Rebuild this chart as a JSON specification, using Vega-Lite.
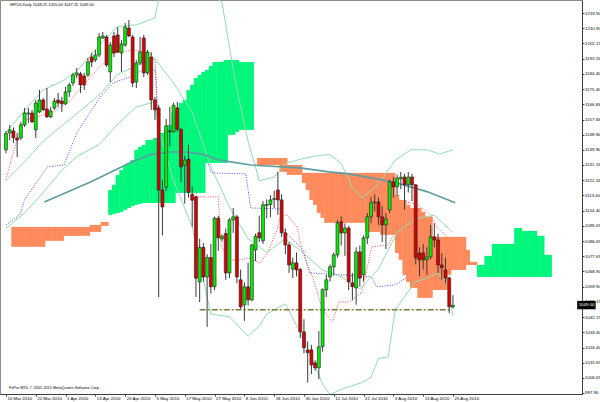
{
  "$schema": "https://vega.github.io/schema/vega-lite/v6.json",
  "width": 582,
  "height": 394,
  "autosize": {"type": "none"},
  "padding": {"left": 0, "top": 0, "right": 18, "bottom": 8},
  "background": "white",
  "config": {
    "view": {"stroke": "#8c8c8c", "strokeWidth": 1},
    "axis": {"labelFont": "Liberation Sans", "labelFontSize": 4.4, "labelColor": "#000000", "domainColor": "#404040", "tickColor": "#404040", "grid": false}
  },
  "datasets": {
    "candles": [
      {"i":0,"o":1140,"h":1151,"l":1138,"c":1149.5},
      {"i":1,"o":1149.8,"h":1154.5,"l":1145.7,"c":1151.6},
      {"i":2,"o":1151,"h":1153,"l":1144,"c":1147},
      {"i":3,"o":1146.9,"h":1149.8,"l":1135.8,"c":1145.7},
      {"i":4,"o":1146.9,"h":1156.3,"l":1145.7,"c":1154.5},
      {"i":5,"o":1154.5,"h":1164.4,"l":1153.3,"c":1161.5},
      {"i":6,"o":1160.9,"h":1164.4,"l":1155.7,"c":1161.5},
      {"i":7,"o":1161.5,"h":1163.3,"l":1155.7,"c":1156.3},
      {"i":8,"o":1151.6,"h":1169.1,"l":1146.9,"c":1167.3},
      {"i":9,"o":1162.1,"h":1174.9,"l":1161.5,"c":1169.1},
      {"i":10,"o":1169.1,"h":1170.3,"l":1162.7,"c":1163.3},
      {"i":11,"o":1163.8,"h":1176.1,"l":1158.6,"c":1159.2},
      {"i":12,"o":1159.2,"h":1165.0,"l":1158.6,"c":1162.7},
      {"i":13,"o":1164.4,"h":1170.3,"l":1163.3,"c":1168.5},
      {"i":14,"o":1169.1,"h":1173.2,"l":1165.0,"c":1167.3},
      {"i":15,"o":1168.5,"h":1170.9,"l":1162.1,"c":1166.8},
      {"i":16,"o":1166.8,"h":1176.7,"l":1166.2,"c":1173.8},
      {"i":17,"o":1173.8,"h":1179.0,"l":1170.9,"c":1177.9},
      {"i":18,"o":1179.0,"h":1184.9,"l":1177.3,"c":1183.7},
      {"i":19,"o":1183.7,"h":1187.8,"l":1181.9,"c":1184.9},
      {"i":20,"o":1184.3,"h":1185.5,"l":1173.2,"c":1177.9},
      {"i":21,"o":1183.1,"h":1184.9,"l":1175.0,"c":1177.9},
      {"i":22,"o":1183.7,"h":1193.6,"l":1182.5,"c":1191.3},
      {"i":23,"o":1194.2,"h":1196.5,"l":1188.4,"c":1191.3},
      {"i":24,"o":1192.5,"h":1198.3,"l":1191.3,"c":1195.4},
      {"i":25,"o":1195.4,"h":1208.2,"l":1194.2,"c":1205.9},
      {"i":26,"o":1205.3,"h":1208.8,"l":1204.7,"c":1206.5},
      {"i":27,"o":1205.9,"h":1207.1,"l":1188.4,"c":1189.5},
      {"i":28,"o":1185.5,"h":1203.0,"l":1179.6,"c":1201.2},
      {"i":29,"o":1206.5,"h":1208.8,"l":1194.2,"c":1196.5},
      {"i":30,"o":1207.1,"h":1211.7,"l":1196.5,"c":1197.1},
      {"i":31,"o":1196.5,"h":1204.1,"l":1185.5,"c":1201.8},
      {"i":32,"o":1201.2,"h":1214.1,"l":1200.1,"c":1211.7},
      {"i":33,"o":1211.1,"h":1215.8,"l":1205.9,"c":1206.5},
      {"i":34,"o":1205.9,"h":1207.1,"l":1176.7,"c":1179.0},
      {"i":35,"o":1179.6,"h":1192.5,"l":1176.1,"c":1190.7},
      {"i":36,"o":1190.7,"h":1205.9,"l":1189.5,"c":1197.1},
      {"i":37,"o":1205.3,"h":1207.1,"l":1182.5,"c":1184.9},
      {"i":38,"o":1184.9,"h":1198.3,"l":1183.7,"c":1197.1},
      {"i":39,"o":1194.2,"h":1197.1,"l":1163.3,"c":1169.1},
      {"i":40,"o":1169.1,"h":1170.9,"l":1157.4,"c":1163.3},
      {"i":41,"o":1164.4,"h":1166.2,"l":1054.0,"c":1116.5},
      {"i":42,"o":1116.5,"h":1122.4,"l":1090.0,"c":1106.6},
      {"i":43,"o":1118.0,"h":1158.0,"l":1116.0,"c":1154.0},
      {"i":44,"o":1151.0,"h":1165.0,"l":1142.0,"c":1150.5},
      {"i":45,"o":1150.5,"h":1167.5,"l":1150.0,"c":1166.0},
      {"i":46,"o":1164.5,"h":1168.0,"l":1150.5,"c":1152.0},
      {"i":47,"o":1152.0,"h":1152.5,"l":1121.0,"c":1130.0},
      {"i":48,"o":1131.0,"h":1136.5,"l":1108.5,"c":1134.0},
      {"i":49,"o":1134.5,"h":1143.0,"l":1112.0,"c":1115.0},
      {"i":50,"o":1114.0,"h":1118.5,"l":1095.0,"c":1110.5},
      {"i":51,"o":1112.5,"h":1113.0,"l":1054.0,"c":1065.0},
      {"i":52,"o":1062.8,"h":1088.0,"l":1051.0,"c":1083.0},
      {"i":53,"o":1083.0,"h":1085.5,"l":1063.0,"c":1065.7},
      {"i":54,"o":1065.7,"h":1079.0,"l":1036.5,"c":1077.0},
      {"i":55,"o":1077.0,"h":1085.0,"l":1056.0,"c":1060.0},
      {"i":56,"o":1060.0,"h":1101.0,"l":1058.0,"c":1100.0},
      {"i":57,"o":1100.0,"h":1101.5,"l":1081.0,"c":1088.5},
      {"i":58,"o":1088.0,"h":1090.5,"l":1086.5,"c":1089.5},
      {"i":59,"o":1091.0,"h":1094.0,"l":1064.0,"c":1068.0},
      {"i":60,"o":1068.0,"h":1100.0,"l":1065.0,"c":1099.0},
      {"i":61,"o":1099.0,"h":1106.0,"l":1091.5,"c":1100.8},
      {"i":62,"o":1100.8,"h":1102.0,"l":1062.0,"c":1065.7},
      {"i":63,"o":1064.0,"h":1070.0,"l":1047.0,"c":1048.2},
      {"i":64,"o":1049.4,"h":1062.5,"l":1040.0,"c":1059.9},
      {"i":65,"o":1059.9,"h":1074.0,"l":1049.0,"c":1052.3},
      {"i":66,"o":1052.3,"h":1085.0,"l":1051.5,"c":1084.4},
      {"i":67,"o":1081.5,"h":1091.0,"l":1075.0,"c":1089.5},
      {"i":68,"o":1091.5,"h":1101.5,"l":1086.0,"c":1088.5},
      {"i":69,"o":1086.8,"h":1110.0,"l":1085.0,"c":1107.8},
      {"i":70,"o":1107.5,"h":1111.0,"l":1100.0,"c":1108.0},
      {"i":71,"o":1108.0,"h":1113.5,"l":1100.5,"c":1110.7},
      {"i":72,"o":1111.0,"h":1116.0,"l":1106.0,"c":1111.5},
      {"i":73,"o":1116.5,"h":1127.0,"l":1102.0,"c":1110.7},
      {"i":74,"o":1110.7,"h":1114.0,"l":1089.0,"c":1091.5},
      {"i":75,"o":1091.5,"h":1094.0,"l":1079.0,"c":1084.4},
      {"i":76,"o":1084.4,"h":1086.0,"l":1068.0,"c":1072.7},
      {"i":77,"o":1070.3,"h":1077.0,"l":1065.0,"c":1074.0},
      {"i":78,"o":1073.9,"h":1080.0,"l":1066.0,"c":1069.8},
      {"i":79,"o":1070.0,"h":1071.0,"l":1030.0,"c":1033.6},
      {"i":80,"o":1033.6,"h":1041.0,"l":1021.0,"c":1024.3},
      {"i":81,"o":1023.0,"h":1028.0,"l":1004.0,"c":1021.5},
      {"i":82,"o":1023.1,"h":1026.0,"l":1009.0,"c":1014.3},
      {"i":83,"o":1015.5,"h":1017.0,"l":1011.0,"c":1012.6},
      {"i":84,"o":1012.6,"h":1034.0,"l":1006.0,"c":1024.9},
      {"i":85,"o":1024.9,"h":1059.0,"l":1022.0,"c":1058.2},
      {"i":86,"o":1058.2,"h":1067.0,"l":1054.0,"c":1064.0},
      {"i":87,"o":1065.7,"h":1073.0,"l":1063.0,"c":1071.6},
      {"i":88,"o":1071.6,"h":1080.0,"l":1066.5,"c":1078.6},
      {"i":89,"o":1078.6,"h":1099.0,"l":1077.0,"c":1097.3},
      {"i":90,"o":1097.9,"h":1101.0,"l":1084.0,"c":1091.4},
      {"i":91,"o":1091.4,"h":1097.0,"l":1078.0,"c":1094.3},
      {"i":92,"o":1094.3,"h":1095.5,"l":1058.0,"c":1062.8},
      {"i":93,"o":1062.2,"h":1068.0,"l":1052.0,"c":1060.0},
      {"i":94,"o":1059.3,"h":1083.0,"l":1049.5,"c":1080.3},
      {"i":95,"o":1080.3,"h":1084.0,"l":1060.0,"c":1065.0},
      {"i":96,"o":1067.0,"h":1090.0,"l":1063.0,"c":1088.5},
      {"i":97,"o":1088.5,"h":1103.0,"l":1085.0,"c":1100.8},
      {"i":98,"o":1100.8,"h":1112.5,"l":1097.0,"c":1109.0},
      {"i":99,"o":1109.0,"h":1114.0,"l":1104.0,"c":1109.5},
      {"i":100,"o":1109.5,"h":1112.0,"l":1096.0,"c":1100.8},
      {"i":101,"o":1100.8,"h":1107.0,"l":1086.0,"c":1096.1},
      {"i":102,"o":1096.1,"h":1103.0,"l":1082.0,"c":1099.6},
      {"i":103,"o":1104.9,"h":1122.5,"l":1103.0,"c":1121.2},
      {"i":104,"o":1121.2,"h":1124.0,"l":1112.0,"c":1118.3},
      {"i":105,"o":1118.3,"h":1125.5,"l":1113.0,"c":1123.5},
      {"i":106,"o":1123.0,"h":1127.0,"l":1117.0,"c":1124.0},
      {"i":107,"o":1124.1,"h":1126.0,"l":1105.0,"c":1119.5},
      {"i":108,"o":1119.5,"h":1127.0,"l":1115.0,"c":1124.1},
      {"i":109,"o":1124.1,"h":1126.0,"l":1110.0,"c":1119.5},
      {"i":110,"o":1119.5,"h":1120.0,"l":1073.0,"c":1076.8},
      {"i":111,"o":1079.7,"h":1083.0,"l":1066.0,"c":1075.7},
      {"i":112,"o":1079.7,"h":1085.0,"l":1070.0,"c":1075.7},
      {"i":113,"o":1075.7,"h":1083.0,"l":1067.0,"c":1077.4},
      {"i":114,"o":1077.4,"h":1096.0,"l":1076.0,"c":1089.1},
      {"i":115,"o":1089.1,"h":1097.0,"l":1083.0,"c":1087.3},
      {"i":116,"o":1087.3,"h":1091.0,"l":1068.0,"c":1072.7},
      {"i":117,"o":1072.7,"h":1079.5,"l":1064.0,"c":1071.0},
      {"i":118,"o":1069.8,"h":1077.0,"l":1062.0,"c":1065.1},
      {"i":119,"o":1065.1,"h":1066.0,"l":1044.5,"c":1048.2},
      {"i":120,"o":1048.25,"h":1055.0,"l":1047.25,"c":1049.0}
    ],
    "cloud": [
      {"i":2,"a":1083.3,"b":1094.9},{"i":3,"a":1083.3,"b":1094.9},{"i":4,"a":1083.3,"b":1094.9},{"i":5,"a":1083.3,"b":1094.9},{"i":6,"a":1083.3,"b":1094.9},{"i":7,"a":1083.3,"b":1094.9},{"i":8,"a":1083.3,"b":1094.9},{"i":9,"a":1083.3,"b":1094.9},{"i":10,"a":1083.3,"b":1094.9},
      {"i":11,"a":1086.8,"b":1094.9},{"i":12,"a":1086.8,"b":1094.9},{"i":13,"a":1086.8,"b":1094.9},{"i":14,"a":1086.8,"b":1094.9},{"i":15,"a":1086.8,"b":1094.9},
      {"i":16,"a":1089.7,"b":1094.9},{"i":17,"a":1089.7,"b":1094.9},{"i":18,"a":1089.7,"b":1094.9},{"i":19,"a":1089.7,"b":1094.9},{"i":20,"a":1089.7,"b":1094.9},{"i":21,"a":1089.7,"b":1094.9},{"i":22,"a":1089.7,"b":1094.9},
      {"i":23,"a":1092.0,"b":1096.1},{"i":24,"a":1092.0,"b":1096.1},{"i":25,"a":1092.0,"b":1096.1},
      {"i":26,"a":1095.5,"b":1097.8},{"i":27,"a":1095.5,"b":1097.8},
      {"i":28,"a":1116.5,"b":1101.9},{"i":29,"a":1119.5,"b":1102.5},{"i":30,"a":1125.3,"b":1103.1},{"i":31,"a":1128.2,"b":1103.7},{"i":32,"a":1131.1,"b":1104.9},{"i":33,"a":1132.3,"b":1106.0},{"i":34,"a":1134.1,"b":1107.2},{"i":35,"a":1139.9,"b":1107.8},{"i":36,"a":1141.7,"b":1108.4},{"i":37,"a":1142.8,"b":1108.9},{"i":38,"a":1145.7,"b":1108.9},{"i":39,"a":1145.7,"b":1108.9},{"i":40,"a":1146.9,"b":1108.9},{"i":41,"a":1146.9,"b":1108.9},{"i":42,"a":1149.8,"b":1108.9},{"i":43,"a":1151.6,"b":1108.9},{"i":44,"a":1154.5,"b":1108.9},{"i":45,"a":1161.5,"b":1108.9},
      {"i":46,"a":1163.3,"b":1114.8},{"i":47,"a":1167.3,"b":1114.8},{"i":48,"a":1169.1,"b":1114.8},{"i":49,"a":1174.9,"b":1114.8},{"i":50,"a":1177.9,"b":1114.8},{"i":51,"a":1181.9,"b":1114.8},{"i":52,"a":1183.7,"b":1114.8},{"i":53,"a":1185.5,"b":1114.8},
      {"i":54,"a":1186.6,"b":1132.3},{"i":55,"a":1189.0,"b":1132.3},{"i":56,"a":1191.3,"b":1132.3},{"i":57,"a":1191.3,"b":1132.3},{"i":58,"a":1191.3,"b":1132.3},{"i":59,"a":1192.5,"b":1132.3},
      {"i":60,"a":1192.5,"b":1148.7},{"i":61,"a":1192.5,"b":1148.7},{"i":62,"a":1192.5,"b":1150.4},{"i":63,"a":1191.3,"b":1151.6},{"i":64,"a":1191.3,"b":1151.6},{"i":65,"a":1191.3,"b":1151.6},{"i":66,"a":1191.3,"b":1151.6},
      {"i":68,"a":1131.1,"b":1135.2},{"i":69,"a":1131.1,"b":1135.2},{"i":70,"a":1131.1,"b":1135.2},{"i":71,"a":1131.1,"b":1135.2},{"i":72,"a":1131.1,"b":1135.2},{"i":73,"a":1131.1,"b":1135.2},
      {"i":74,"a":1127.1,"b":1135.2},{"i":75,"a":1127.1,"b":1135.2},
      {"i":76,"a":1125.3,"b":1131.1},{"i":77,"a":1125.3,"b":1131.1},{"i":78,"a":1125.3,"b":1131.1},{"i":79,"a":1125.3,"b":1131.1},
      {"i":80,"a":1120.6,"b":1126.5},{"i":81,"a":1116.5,"b":1126.5},{"i":82,"a":1110.7,"b":1126.5},{"i":83,"a":1107.8,"b":1126.5},{"i":84,"a":1103.1,"b":1126.5},{"i":85,"a":1100.2,"b":1126.5},
      {"i":86,"a":1097.3,"b":1126.5},{"i":87,"a":1097.3,"b":1126.5},{"i":88,"a":1097.3,"b":1126.5},{"i":89,"a":1097.3,"b":1126.5},{"i":90,"a":1097.3,"b":1126.5},{"i":91,"a":1097.3,"b":1126.5},{"i":92,"a":1097.3,"b":1126.5},{"i":93,"a":1097.3,"b":1126.5},{"i":94,"a":1097.3,"b":1126.5},{"i":95,"a":1097.3,"b":1126.5},{"i":96,"a":1097.3,"b":1126.5},
      {"i":97,"a":1092.0,"b":1126.5},{"i":98,"a":1092.0,"b":1126.5},{"i":99,"a":1092.0,"b":1126.5},{"i":100,"a":1092.0,"b":1126.5},
      {"i":101,"a":1090.3,"b":1126.5},{"i":102,"a":1090.3,"b":1126.5},{"i":103,"a":1090.3,"b":1126.5},{"i":104,"a":1090.3,"b":1126.5},
      {"i":105,"a":1079.7,"b":1113.6},{"i":106,"a":1075.7,"b":1110.7},{"i":107,"a":1066.9,"b":1110.7},{"i":108,"a":1062.8,"b":1107.8},{"i":109,"a":1059.3,"b":1106.0},{"i":110,"a":1059.3,"b":1106.0},{"i":111,"a":1053.5,"b":1106.0},{"i":112,"a":1053.5,"b":1103.7},{"i":113,"a":1053.5,"b":1100.8},{"i":114,"a":1053.5,"b":1100.8},
      {"i":115,"a":1058.1,"b":1089.1},{"i":116,"a":1058.1,"b":1089.1},{"i":117,"a":1058.1,"b":1089.1},{"i":118,"a":1058.1,"b":1089.1},{"i":119,"a":1066.9,"b":1089.1},
      {"i":120,"a":1069.8,"b":1089.1},{"i":121,"a":1069.8,"b":1089.1},{"i":122,"a":1069.8,"b":1089.1},{"i":123,"a":1069.8,"b":1089.1},
      {"i":124,"a":1072.7,"b":1081.5},{"i":125,"a":1072.7,"b":1074.5},{"i":126,"a":1072.7,"b":1074.5},
      {"i":127,"a":1072.7,"b":1065.7},{"i":128,"a":1072.7,"b":1065.7},{"i":129,"a":1078.0,"b":1065.7},{"i":130,"a":1078.0,"b":1065.7},
      {"i":131,"a":1085.0,"b":1065.7},{"i":132,"a":1085.0,"b":1065.7},{"i":133,"a":1085.0,"b":1065.7},{"i":134,"a":1085.0,"b":1065.7},{"i":135,"a":1085.0,"b":1065.7},{"i":136,"a":1085.0,"b":1065.7},
      {"i":137,"a":1094.3,"b":1065.7},{"i":138,"a":1094.3,"b":1065.7},
      {"i":139,"a":1092.6,"b":1065.7},{"i":140,"a":1092.6,"b":1065.7},{"i":141,"a":1092.6,"b":1065.7},{"i":142,"a":1092.6,"b":1065.7},
      {"i":143,"a":1089.7,"b":1065.7},{"i":144,"a":1089.7,"b":1065.7},{"i":145,"a":1078.6,"b":1065.7},{"i":146,"a":1078.6,"b":1065.7}
    ],
    "dots": [
      {"s":"tk","i":0,"v":1122.4},{"s":"tk","i":1.6,"v":1135.8},{"s":"tk","i":3.2,"v":1147.5},{"s":"tk","i":5,"v":1157.4},{"s":"tk","i":8.4,"v":1159.2},{"s":"tk","i":12.9,"v":1162.1},{"s":"tk","i":17.4,"v":1169.1},{"s":"tk","i":24.3,"v":1186.6},{"s":"tk","i":28.8,"v":1196.5},{"s":"tk","i":34,"v":1198.3},{"s":"tk","i":38.5,"v":1196.5},{"s":"tk","i":40.1,"v":1192.5},{"s":"tk","i":41.2,"v":1135.2},{"s":"tk","i":48,"v":1134.1},{"s":"tk","i":50.7,"v":1124.1},{"s":"tk","i":51.2,"v":1112.5},{"s":"tk","i":57,"v":1112.5},{"s":"tk","i":57.8,"v":1083.3},{"s":"tk","i":60.4,"v":1075.7},{"s":"tk","i":63.1,"v":1075.7},{"s":"tk","i":64.9,"v":1076.8},{"s":"tk","i":68.3,"v":1073.9},{"s":"tk","i":70.2,"v":1079.7},{"s":"tk","i":72.8,"v":1093.2},{"s":"tk","i":73.6,"v":1100.8},{"s":"tk","i":75.5,"v":1101.9},{"s":"tk","i":78.1,"v":1094.9},{"s":"tk","i":79.7,"v":1079.7},{"s":"tk","i":82.3,"v":1065.7},{"s":"tk","i":85,"v":1046.5},{"s":"tk","i":87.6,"v":1039.5},{"s":"tk","i":89.4,"v":1051.1},{"s":"tk","i":92.1,"v":1051.1},{"s":"tk","i":95.5,"v":1056.4},{"s":"tk","i":98.2,"v":1083.3},{"s":"tk","i":102.6,"v":1084.4},{"s":"tk","i":104,"v":1090.3},{"s":"tk","i":105.3,"v":1110.7},{"s":"tk","i":110.6,"v":1107.8},{"s":"tk","i":114,"v":1101.9},{"s":"tk","i":115.8,"v":1094.4},{"s":"tk","i":118.5,"v":1089.1},{"s":"tk","i":120.3,"v":1081.5},
      {"s":"kj","i":0,"v":1096.1},{"s":"kj","i":3.7,"v":1101.9},{"s":"kj","i":5,"v":1110.7},{"s":"kj","i":11.1,"v":1130.0},{"s":"kj","i":15.6,"v":1131.1},{"s":"kj","i":19,"v":1149.8},{"s":"kj","i":25.3,"v":1170.9},{"s":"kj","i":28.8,"v":1179.0},{"s":"kj","i":33.2,"v":1182.5},{"s":"kj","i":36.7,"v":1186.6},{"s":"kj","i":40.1,"v":1186.6},{"s":"kj","i":41.2,"v":1135.2},{"s":"kj","i":53.8,"v":1135.2},{"s":"kj","i":55.1,"v":1126.5},{"s":"kj","i":64.4,"v":1125.9},{"s":"kj","i":65.7,"v":1106.0},{"s":"kj","i":73.6,"v":1105.4},{"s":"kj","i":74.4,"v":1093.2},{"s":"kj","i":79.7,"v":1081.5},{"s":"kj","i":81.5,"v":1068.1},{"s":"kj","i":98.2,"v":1065.7},{"s":"kj","i":99.5,"v":1059.9},{"s":"kj","i":104.5,"v":1061.0},{"s":"kj","i":107.4,"v":1065.1},{"s":"kj","i":110.6,"v":1074.5},{"s":"kj","i":120.3,"v":1084.4}
    ],
    "bands": [
      {"s":"up","i":0,"v":1150},{"s":"up","i":5,"v":1163},{"s":"up","i":10,"v":1175},{"s":"up","i":15,"v":1180},{"s":"up","i":19,"v":1186},{"s":"up","i":25,"v":1201},{"s":"up","i":30,"v":1212},{"s":"up","i":35,"v":1213},{"s":"up","i":40,"v":1217},{"s":"up","i":41,"v":1228},{"s":"up","i":43,"v":1233},{"s":"up","i":45,"v":1236},{"s":"up","i":50,"v":1232},{"s":"up","i":55,"v":1232},{"s":"up","i":58,"v":1226},{"s":"up","i":60,"v":1200},{"s":"up","i":62,"v":1175},{"s":"up","i":65,"v":1145},{"s":"up","i":68,"v":1122},{"s":"up","i":72,"v":1124},{"s":"up","i":75,"v":1132},{"s":"up","i":80,"v":1135},{"s":"up","i":85,"v":1137},{"s":"up","i":87,"v":1137},{"s":"up","i":90,"v":1132},{"s":"up","i":93,"v":1118},{"s":"up","i":95.5,"v":1112},{"s":"up","i":98,"v":1116},{"s":"up","i":100,"v":1120},{"s":"up","i":104.5,"v":1134},{"s":"up","i":108.7,"v":1140},{"s":"up","i":113,"v":1140},{"s":"up","i":116.5,"v":1137.5},{"s":"up","i":120,"v":1140},
      {"s":"mid","i":0,"v":1122},{"s":"mid","i":5,"v":1133},{"s":"mid","i":10,"v":1145},{"s":"mid","i":15,"v":1154},{"s":"mid","i":19,"v":1161},{"s":"mid","i":25,"v":1172},{"s":"mid","i":30,"v":1184},{"s":"mid","i":35,"v":1189},{"s":"mid","i":40,"v":1193},{"s":"mid","i":45,"v":1179},{"s":"mid","i":50,"v":1162},{"s":"mid","i":55,"v":1130},{"s":"mid","i":60,"v":1106.5},{"s":"mid","i":65,"v":1088},{"s":"mid","i":70,"v":1080},{"s":"mid","i":75,"v":1088},{"s":"mid","i":80,"v":1079.4},{"s":"mid","i":85,"v":1069.6},{"s":"mid","i":90,"v":1065.9},{"s":"mid","i":95,"v":1058.6},{"s":"mid","i":100,"v":1070.3},{"s":"mid","i":105,"v":1091.6},{"s":"mid","i":110,"v":1099.7},{"s":"mid","i":115,"v":1101.8},{"s":"mid","i":120,"v":1091.7},
      {"s":"lo","i":0,"v":1094},{"s":"lo","i":5,"v":1103},{"s":"lo","i":10,"v":1115},{"s":"lo","i":15,"v":1128},{"s":"lo","i":19,"v":1136},{"s":"lo","i":25,"v":1143},{"s":"lo","i":30,"v":1155},{"s":"lo","i":35,"v":1165},{"s":"lo","i":40,"v":1168},{"s":"lo","i":41,"v":1152},{"s":"lo","i":43,"v":1137},{"s":"lo","i":45,"v":1122},{"s":"lo","i":50,"v":1095},{"s":"lo","i":55,"v":1044},{"s":"lo","i":60,"v":1042.5},{"s":"lo","i":65,"v":1031},{"s":"lo","i":68,"v":1037},{"s":"lo","i":70,"v":1044},{"s":"lo","i":75,"v":1050},{"s":"lo","i":80,"v":1029},{"s":"lo","i":85,"v":1003},{"s":"lo","i":87,"v":997},{"s":"lo","i":90,"v":1000},{"s":"lo","i":95.5,"v":1004},{"s":"lo","i":98,"v":1007},{"s":"lo","i":100,"v":1018},{"s":"lo","i":102.6,"v":1019},{"s":"lo","i":104.5,"v":1046.5},{"s":"lo","i":107,"v":1054},{"s":"lo","i":109.8,"v":1062.8},{"s":"lo","i":113,"v":1065},{"s":"lo","i":116,"v":1068},{"s":"lo","i":118.5,"v":1062},{"s":"lo","i":120,"v":1043}
    ],
    "ma": [
      {"i":10.3,"v":1109.5},{"i":22.7,"v":1121.2},{"i":33.2,"v":1132.3},{"i":38.5,"v":1137.0},{"i":43.8,"v":1138.7},{"i":48,"v":1138.7},{"i":52.5,"v":1137.6},{"i":57,"v":1134.1},{"i":65.7,"v":1131.1},{"i":78.9,"v":1129.4},{"i":86.8,"v":1127.1},{"i":92.1,"v":1125.9},{"i":104,"v":1121.2},{"i":113.2,"v":1115.4},{"i":120.6,"v":1109.0}
    ],
    "hline": [{"i":52,"i2":119,"v":1046.5}],
    "toptext": [{"i":0.8,"v":1224.6,"t":"#EPU0,Daily  1048.25 1055.00 1047.25 1049.00"}],
    "bottext": [{"i":0.8,"v":1000.8,"t":"FxPro MT4, © 2001-2010 MetaQuotes Software Corp."}],
    "price": [{"i":153.35,"i2":158.3,"v":1046.8,"v2":1051.7}],
    "pricetext": [{"i":153.75,"v":1049.25,"t":"1049.00"}]
  },
  "encoding": {
    "x": {"field": "i", "type": "quantitative", "scale": {"domain": [-0.26, 153.3], "nice": false, "zero": false},
      "axis": {"orient": "bottom", "title": null, "values": [0,8,16,24,32,40,48,56,64,72,80,88,96,104,112,120],
        "labelExpr": "['10 Mar 2010','22 Mar 2010','1 Apr 2010','13 Apr 2010','23 Apr 2010','5 May 2010','17 May 2010','27 May 2010','8 Jun 2010','18 Jun 2010','30 Jun 2010','12 Jul 2010','22 Jul 2010','3 Aug 2010','13 Aug 2010','25 Aug 2010'][round(datum.value/8)]",
        "labelAlign": "left", "labelBaseline": "top", "labelPadding": 0, "labelOffset": 1, "tickSize": 2, "labelOverlap": false, "labelBound": false, "labelFlush": false}},
    "y": {"field": "v", "type": "quantitative", "scale": {"domain": [997.3, 1227.5], "nice": false, "zero": false},
      "axis": {"orient": "right", "title": null, "values": [1219.90,1210.90,1202.15,1193.15,1184.40,1175.40,1166.65,1157.65,1148.90,1139.90,1131.15,1122.15,1113.40,1104.40,1095.65,1086.65,1077.65,1068.90,1059.90,1051.15,1042.15,1033.40,1024.40,1015.65,1006.65,997.90],
        "format": ".2f", "tickSize": 2, "labelPadding": 0.5, "labelOverlap": false, "labelBound": false, "labelFlush": false}}
  },
  "layer": [
    {
      "data": {"name": "dots"},
      "mark": {"type": "line", "strokeWidth": 1, "strokeDash": [1, 1.5], "clip": true},
      "encoding": {
        "color": {"field": "s", "type": "nominal", "scale": {"domain": ["tk", "kj"], "range": ["#ff5050", "#4b4bff"]}, "legend": null},
        "order": {"field": "i", "type": "quantitative"}
      }
    },
    {
      "data": {"name": "cloud"},
      "mark": {"type": "bar", "width": 4.2},
      "encoding": {
        "y": {"field": "a", "type": "quantitative"},
        "y2": {"field": "b"},
        "color": {"condition": {"test": "datum.a >= datum.b", "value": "#00f77c"}, "value": "#ff8a5c"}
      }
    },
    {
      "data": {"name": "bands"},
      "mark": {"type": "line", "strokeWidth": 1, "color": "#93dbb0", "clip": true},
      "encoding": {
        "detail": {"field": "s", "type": "nominal"},
        "order": {"field": "i", "type": "quantitative"}
      }
    },
    {
      "data": {"name": "ma"},
      "mark": {"type": "line", "strokeWidth": 1.6, "color": "#5c9da2", "clip": true},
      "encoding": {
        "order": {"field": "i", "type": "quantitative"}
      }
    },
    {
      "data": {"name": "hline"},
      "mark": {"type": "rule", "color": "#7e7e3c", "strokeWidth": 1.5, "strokeDash": [6, 2, 2, 2]},
      "encoding": {
        "x2": {"field": "i2"}
      }
    },
    {
      "data": {"name": "candles"},
      "mark": {"type": "rule", "color": "#3a3a3a", "strokeWidth": 1},
      "encoding": {
        "y": {"field": "l", "type": "quantitative"},
        "y2": {"field": "h"}
      }
    },
    {
      "data": {"name": "candles"},
      "mark": {"type": "bar", "width": 3, "stroke": "#202020", "strokeWidth": 0.6},
      "encoding": {
        "y": {"field": "o", "type": "quantitative"},
        "y2": {"field": "c"},
        "color": {"condition": {"test": "datum.c >= datum.o", "value": "#00ee00"}, "value": "#dd0000"}
      }
    },
    {
      "data": {"name": "toptext"},
      "mark": {"type": "text", "align": "left", "baseline": "middle", "font": "Liberation Sans", "fontSize": 4, "color": "#000000"},
      "encoding": {"text": {"field": "t"}}
    },
    {
      "data": {"name": "bottext"},
      "mark": {"type": "text", "align": "left", "baseline": "middle", "font": "Liberation Sans", "fontSize": 3.8, "color": "#000000"},
      "encoding": {"text": {"field": "t"}}
    },
    {
      "data": {"name": "price"},
      "mark": {"type": "rect", "color": "#000000"},
      "encoding": {
        "x2": {"field": "i2"},
        "y2": {"field": "v2"}
      }
    },
    {
      "data": {"name": "pricetext"},
      "mark": {"type": "text", "align": "left", "baseline": "middle", "font": "Liberation Sans", "fontSize": 4.4, "color": "#ffffff"},
      "encoding": {"text": {"field": "t"}}
    }
  ]
}
